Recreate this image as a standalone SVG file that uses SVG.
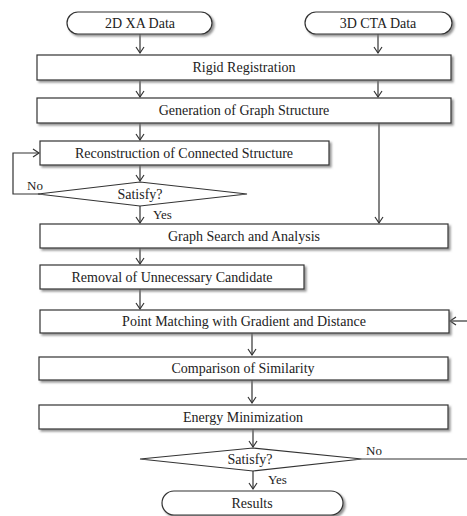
<svg xmlns="http://www.w3.org/2000/svg" width="467" height="516" viewBox="0 0 467 516">
<style>
.box{fill:#fff;stroke:#333;stroke-width:1.2;filter:url(#sh)}
.dia{fill:#fff;stroke:#333;stroke-width:1.2}
.t{font-size:14px;fill:#222;text-anchor:middle}
.l{font-size:13px;fill:#222}
.c{fill:none;stroke:#333;stroke-width:1.2}
</style>
<defs>
<filter id="sh" x="-5%" y="-20%" width="110%" height="150%">
<feDropShadow dx="2" dy="2" stdDeviation="1" flood-color="#777" flood-opacity="0.8"/>
</filter>
<marker id="a" markerWidth="10" markerHeight="10" refX="8" refY="5" orient="auto" markerUnits="userSpaceOnUse">
<path d="M2,1 L8,5 L2,9" fill="none" stroke="#333" stroke-width="1.2"/>
</marker>
</defs>
<g id="connectors" font-family="Liberation Serif, DejaVu Serif, serif">
<path class="c" d="M140,34 V53" marker-end="url(#a)"/>
<path class="c" d="M378,34 V53" marker-end="url(#a)"/>
<path class="c" d="M140,81 V97" marker-end="url(#a)"/>
<path class="c" d="M378,81 V97" marker-end="url(#a)"/>
<path class="c" d="M140,123 V140" marker-end="url(#a)"/>
<path class="c" d="M379,123 V223" marker-end="url(#a)"/>
<path class="c" d="M140,165 V181" marker-end="url(#a)"/>
<path class="c" d="M40,194 H13 V153 H39" marker-end="url(#a)"/>
<path class="c" d="M140,206 V223" marker-end="url(#a)"/>
<path class="c" d="M140,248 V264" marker-end="url(#a)"/>
<path class="c" d="M140,289 V309" marker-end="url(#a)"/>
<path class="c" d="M467,321 H450" marker-end="url(#a)"/>
<path class="c" d="M252,333 V355" marker-end="url(#a)"/>
<path class="c" d="M252,380 V403" marker-end="url(#a)"/>
<path class="c" d="M253,429 V447" marker-end="url(#a)"/>
<path class="c" d="M362,459 H467"/>
<path class="c" d="M253,471 V489" marker-end="url(#a)"/>
<text class="l" x="27" y="190">No</text>
<text class="l" x="153" y="219">Yes</text>
<text class="l" x="366" y="455">No</text>
<text class="l" x="268" y="484">Yes</text>
</g>
<g font-family="Liberation Serif, DejaVu Serif, serif">
<g id="start2d"><rect class="box" x="67" y="12" width="145" height="22" rx="11"/><text class="t" x="140" y="28">2D XA Data</text></g>
<g id="start3d"><rect class="box" x="305" y="12" width="147" height="22" rx="11"/><text class="t" x="378" y="28">3D CTA Data</text></g>
<g id="rigid"><rect class="box" x="37" y="55" width="414" height="25"/><text class="t" x="244" y="72">Rigid Registration</text></g>
<g id="graphgen"><rect class="box" x="37" y="98" width="414" height="25"/><text class="t" x="244" y="115">Generation of Graph Structure</text></g>
<g id="recon"><rect class="box" x="40" y="141" width="289" height="24"/><text class="t" x="184" y="158">Reconstruction of Connected Structure</text></g>
<g id="sat1"><polygon class="dia" points="38,194 140,182 247,194 140,206"/><text class="t" x="140" y="199">Satisfy?</text></g>
<g id="search"><rect class="box" x="40" y="224" width="408" height="24"/><text class="t" x="244" y="241">Graph Search and Analysis</text></g>
<g id="removal"><rect class="box" x="40" y="265" width="264" height="24"/><text class="t" x="172" y="282">Removal of Unnecessary Candidate</text></g>
<g id="matching"><rect class="box" x="40" y="310" width="409" height="23"/><text class="t" x="244" y="326">Point Matching with Gradient and Distance</text></g>
<g id="compare"><rect class="box" x="39" y="357" width="409" height="23"/><text class="t" x="243" y="373">Comparison of Similarity</text></g>
<g id="energy"><rect class="box" x="39" y="405" width="409" height="24"/><text class="t" x="243" y="422">Energy Minimization</text></g>
<g id="sat2"><polygon class="dia" points="140,459 253,448 362,459 253,471"/><text class="t" x="250" y="464">Satisfy?</text></g>
<g id="results"><rect class="box" x="162" y="491" width="181" height="24" rx="12"/><text class="t" x="252" y="508">Results</text></g>
</g>
</svg>
